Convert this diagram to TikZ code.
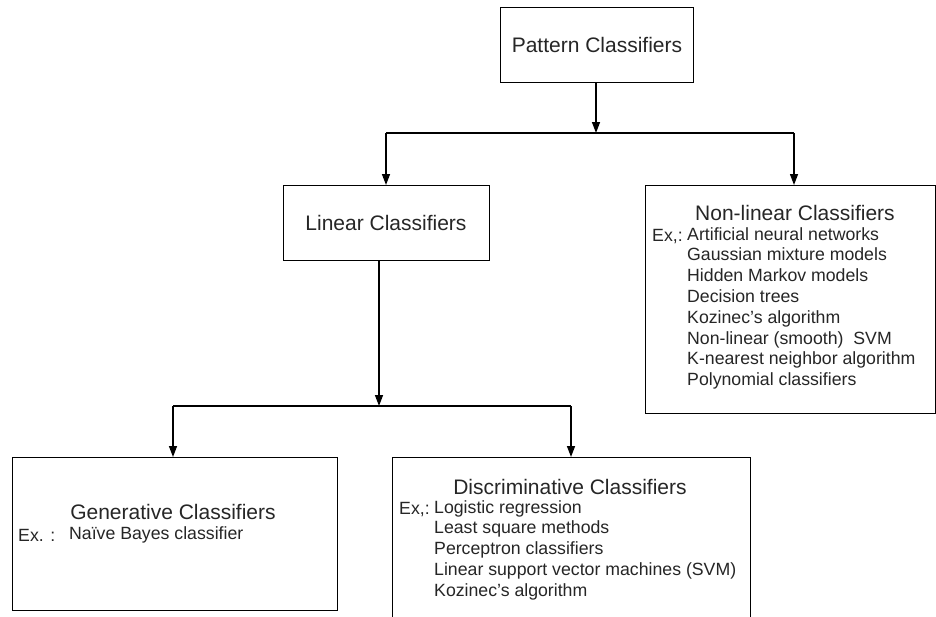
\documentclass[tikz,border=0pt]{standalone}
\usepackage{fontspec}
\setmainfont{Liberation Sans}
\usetikzlibrary{arrows.meta}
\begin{document}
\begin{tikzpicture}[x=1pt,y=-1pt,
  box/.style={draw=black,line width=1.4pt,inner sep=0pt,anchor=north west},
  title/.style={font=\fontsize{21}{24}\selectfont,inner sep=0pt,text=black!85},
  item/.style={font=\fontsize{17.7}{20.8}\selectfont,inner sep=0pt,anchor=west,align=left,text=black!85},
  conn/.style={line width=1.4pt},
  arr/.style={line width=1.4pt,-{Triangle[width=8pt,length=11pt]}}]
\useasboundingbox[fill=white] (0,0) rectangle (936,616);
% boxes
\node[box,minimum width=193pt,minimum height=75pt] (pat) at (500,7) {};
\node[box,minimum width=206pt,minimum height=75pt] (lin) at (283,185) {};
\node[box,minimum width=290pt,minimum height=228pt] (non) at (645,185) {};
\node[box,minimum width=325pt,minimum height=153pt] (gen) at (12,457) {};
\node[box,minimum width=358pt,minimum height=165pt] (dis) at (392,457) {};
% titles
\node[title] (patT) at (597,45) {Pattern Classifiers};
\node[title] (linT) at (386,223) {Linear Classifiers};
\node[title] (nonT) at (795,213) {Non-linear Classifiers};
\node[title] (genT) at (173,512) {Generative Classifiers};
\node[title] (disT) at (570,487) {Discriminative Classifiers};
% examples
\node[item] (nonEx) at (652,237) {Ex,:};
\node[item,anchor=north west] (nonL) at (687,227) {Artificial neural networks\\Gaussian mixture models\\Hidden Markov models\\Decision trees\\Kozinec's algorithm\\Non-linear (smooth)\ \ SVM\\K-nearest neighbor algorithm\\Polynomial classifiers};
\node[item] (genEx) at (18,535) {Ex. :};
\node[item] (genL) at (69,535) {Naïve Bayes classifier};
\node[item] (disEx) at (399,510) {Ex,:};
\node[item,anchor=north west] (disL) at (434,500) {Logistic regression\\Least square methods\\Perceptron classifiers\\Linear support vector machines (SVM)\\Kozinec's algorithm};
% connectors
\coordinate (b1) at (596,133);
\coordinate (b1L) at (386,133);
\coordinate (b1R) at (794,133);
\coordinate (b2) at (379,406);
\coordinate (b2L) at (173,406);
\coordinate (b2R) at (571,406);
\draw[arr] (pat.south -| b1) -- (b1);
\draw[conn] (b1L) -- (b1R);
\draw[arr] (b1L) -- (b1L |- lin.north);
\draw[arr] (b1R) -- (b1R |- non.north);
\draw[arr] (lin.south -| b2) -- (b2);
\draw[conn] (b2L) -- (b2R);
\draw[arr] (b2L) -- (b2L |- gen.north);
\draw[arr] (b2R) -- (b2R |- dis.north);
\end{tikzpicture}
\end{document}
